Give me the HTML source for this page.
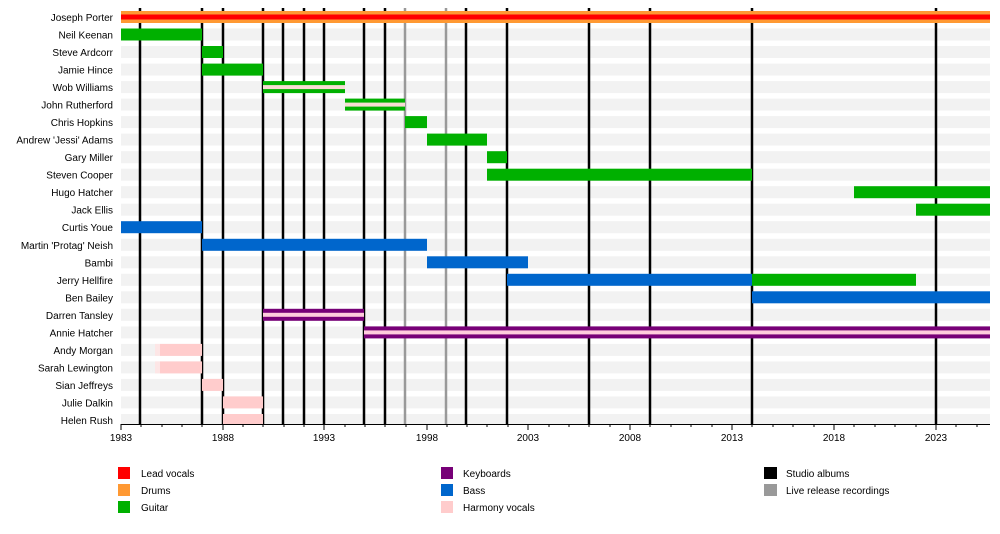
<!DOCTYPE html>
<html><head><meta charset="utf-8"><style>
body{margin:0;background:#fff}
svg{display:block;font-family:"Liberation Sans",Arial,sans-serif;font-size:10px}
</style></head><body>
<svg width="1000" height="534" viewBox="0 0 1000 534">
<g fill="#f2f2f2">
<rect x="121" y="11" width="869" height="12"/><rect x="121" y="28.5" width="869" height="12"/><rect x="121" y="46" width="869" height="12"/><rect x="121" y="63.6" width="869" height="12"/><rect x="121" y="81.1" width="869" height="12"/><rect x="121" y="98.6" width="869" height="12"/><rect x="121" y="116.1" width="869" height="12"/><rect x="121" y="133.6" width="869" height="12"/><rect x="121" y="151.2" width="869" height="12"/><rect x="121" y="168.7" width="869" height="12"/><rect x="121" y="186.2" width="869" height="12"/><rect x="121" y="203.7" width="869" height="12"/><rect x="121" y="221.2" width="869" height="12"/><rect x="121" y="238.8" width="869" height="12"/><rect x="121" y="256.3" width="869" height="12"/><rect x="121" y="273.8" width="869" height="12"/><rect x="121" y="291.3" width="869" height="12"/><rect x="121" y="308.8" width="869" height="12"/><rect x="121" y="326.4" width="869" height="12"/><rect x="121" y="343.9" width="869" height="12"/><rect x="121" y="361.4" width="869" height="12"/><rect x="121" y="378.9" width="869" height="12"/><rect x="121" y="396.4" width="869" height="12"/><rect x="121" y="414" width="869" height="10"/>
</g>
<g stroke="#000" stroke-width="2.5">
<line x1="140" y1="8" x2="140" y2="424"/><line x1="202" y1="8" x2="202" y2="424"/><line x1="223" y1="8" x2="223" y2="424"/><line x1="263" y1="8" x2="263" y2="424"/><line x1="283" y1="8" x2="283" y2="424"/><line x1="304" y1="8" x2="304" y2="424"/><line x1="324" y1="8" x2="324" y2="424"/><line x1="364" y1="8" x2="364" y2="424"/><line x1="385" y1="8" x2="385" y2="424"/><line x1="466" y1="8" x2="466" y2="424"/><line x1="507" y1="8" x2="507" y2="424"/><line x1="589" y1="8" x2="589" y2="424"/><line x1="650" y1="8" x2="650" y2="424"/><line x1="752" y1="8" x2="752" y2="424"/><line x1="936" y1="8" x2="936" y2="424"/>
</g>
<g stroke="#999" stroke-width="2.5"><line x1="405" y1="8" x2="405" y2="424"/><line x1="446" y1="8" x2="446" y2="424"/></g>
<!-- bars -->
<rect x="121" y="11" width="869" height="12" fill="#ff9933"/><rect x="121" y="14.5" width="869" height="5" fill="#ff0000"/>
<g fill="#00b000">
<rect x="121" y="28.5" width="81" height="12"/>
<rect x="202" y="46" width="21" height="12"/>
<rect x="202" y="63.6" width="61" height="12"/>
<rect x="263" y="81.1" width="82" height="12"/>
<rect x="345" y="98.6" width="60" height="12"/>
<rect x="405" y="116.1" width="22" height="12"/>
<rect x="427" y="133.6" width="60" height="12"/>
<rect x="487" y="151.2" width="20" height="12"/>
<rect x="487" y="168.7" width="265" height="12"/>
<rect x="854" y="186.2" width="136" height="12"/>
<rect x="916" y="203.7" width="74" height="12"/>
<rect x="752" y="273.8" width="164" height="12"/>
</g>
<g fill="#f8dcd4"><rect x="263" y="85.1" width="82" height="4"/><rect x="345" y="102.6" width="60" height="4"/></g>
<g fill="#0066cc">
<rect x="121" y="221.2" width="81" height="12"/>
<rect x="202" y="238.8" width="225" height="12"/>
<rect x="427" y="256.3" width="101" height="12"/>
<rect x="507" y="273.8" width="245" height="12"/>
<rect x="752" y="291.3" width="238" height="12"/>
</g>
<g fill="#770077"><rect x="263" y="308.8" width="101" height="12"/><rect x="364" y="326.4" width="626" height="12"/></g>
<g fill="#ffccdd"><rect x="263" y="312.8" width="101" height="4"/><rect x="364" y="330.4" width="626" height="4"/></g>
<g fill="#ffcccc">
<rect x="160" y="343.9" width="42" height="12"/><rect x="160" y="361.4" width="42" height="12"/>
<rect x="202" y="378.9" width="21" height="12"/><rect x="223" y="396.4" width="40" height="12"/><rect x="223" y="414" width="40" height="10"/>
</g>
<g fill="#fde6e6"><rect x="155" y="343.9" width="5" height="12"/><rect x="155" y="361.4" width="5" height="12"/></g>
<!-- axis -->
<line x1="121" y1="424.5" x2="990" y2="424.5" stroke="#000" stroke-width="1"/>
<g stroke="#000" stroke-width="1">
<path d="M121 424v6M223 424v6M324 424v6M427 424v6M528 424v6M630 424v6M732 424v6M834 424v6M936 424v6"/>
<path d="M141 424v3M162 424v3M182 424v3M202 424v3M243 424v3M263 424v3M284 424v3M304 424v3M345 424v3M365 424v3M385 424v3M406 424v3M447 424v3M467 424v3M487 424v3M508 424v3M549 424v3M569 424v3M589 424v3M610 424v3M650 424v3M671 424v3M691 424v3M712 424v3M752 424v3M773 424v3M793 424v3M814 424v3M854 424v3M875 424v3M895 424v3M916 424v3M956 424v3M977 424v3"/>
</g>
<g text-anchor="middle" fill="#000">
<text x="121" y="441">1983</text><text x="223" y="441">1988</text><text x="324" y="441">1993</text><text x="427" y="441">1998</text><text x="528" y="441">2003</text><text x="630" y="441">2008</text><text x="732" y="441">2013</text><text x="834" y="441">2018</text><text x="936" y="441">2023</text>
</g>
<g text-anchor="end" fill="#000">
<text x="113" y="21">Joseph Porter</text><text x="113" y="38.5">Neil Keenan</text><text x="113" y="56">Steve Ardcorr</text><text x="113" y="73.6">Jamie Hince</text><text x="113" y="91.1">Wob Williams</text><text x="113" y="108.6">John Rutherford</text><text x="113" y="126.1">Chris Hopkins</text><text x="113" y="143.6">Andrew 'Jessi' Adams</text><text x="113" y="161.2">Gary Miller</text><text x="113" y="178.7">Steven Cooper</text><text x="113" y="196.2">Hugo Hatcher</text><text x="113" y="213.7">Jack Ellis</text><text x="113" y="231.2">Curtis Youe</text><text x="113" y="248.8">Martin 'Protag' Neish</text><text x="113" y="266.3">Bambi</text><text x="113" y="283.8">Jerry Hellfire</text><text x="113" y="301.3">Ben Bailey</text><text x="113" y="318.8">Darren Tansley</text><text x="113" y="336.4">Annie Hatcher</text><text x="113" y="353.9">Andy Morgan</text><text x="113" y="371.4">Sarah Lewington</text><text x="113" y="388.9">Sian Jeffreys</text><text x="113" y="406.4">Julie Dalkin</text><text x="113" y="424">Helen Rush</text>
</g>
<!-- legend -->
<rect x="118" y="467" width="12" height="12" fill="#ff0000"/><text x="141" y="477">Lead vocals</text>
<rect x="118" y="484" width="12" height="12" fill="#ff9933"/><text x="141" y="494">Drums</text>
<rect x="118" y="501" width="12" height="12" fill="#00b000"/><text x="141" y="511">Guitar</text>
<rect x="441" y="467" width="12" height="12" fill="#770077"/><text x="463" y="477">Keyboards</text>
<rect x="441" y="484" width="12" height="12" fill="#0066cc"/><text x="463" y="494">Bass</text>
<rect x="441" y="501" width="12" height="12" fill="#ffcccc"/><text x="463" y="511">Harmony vocals</text>
<rect x="764" y="467" width="13" height="12" fill="#000"/><text x="786" y="477">Studio albums</text>
<rect x="764" y="484" width="13" height="12" fill="#999"/><text x="786" y="494">Live release recordings</text>
</svg>
</body></html>
